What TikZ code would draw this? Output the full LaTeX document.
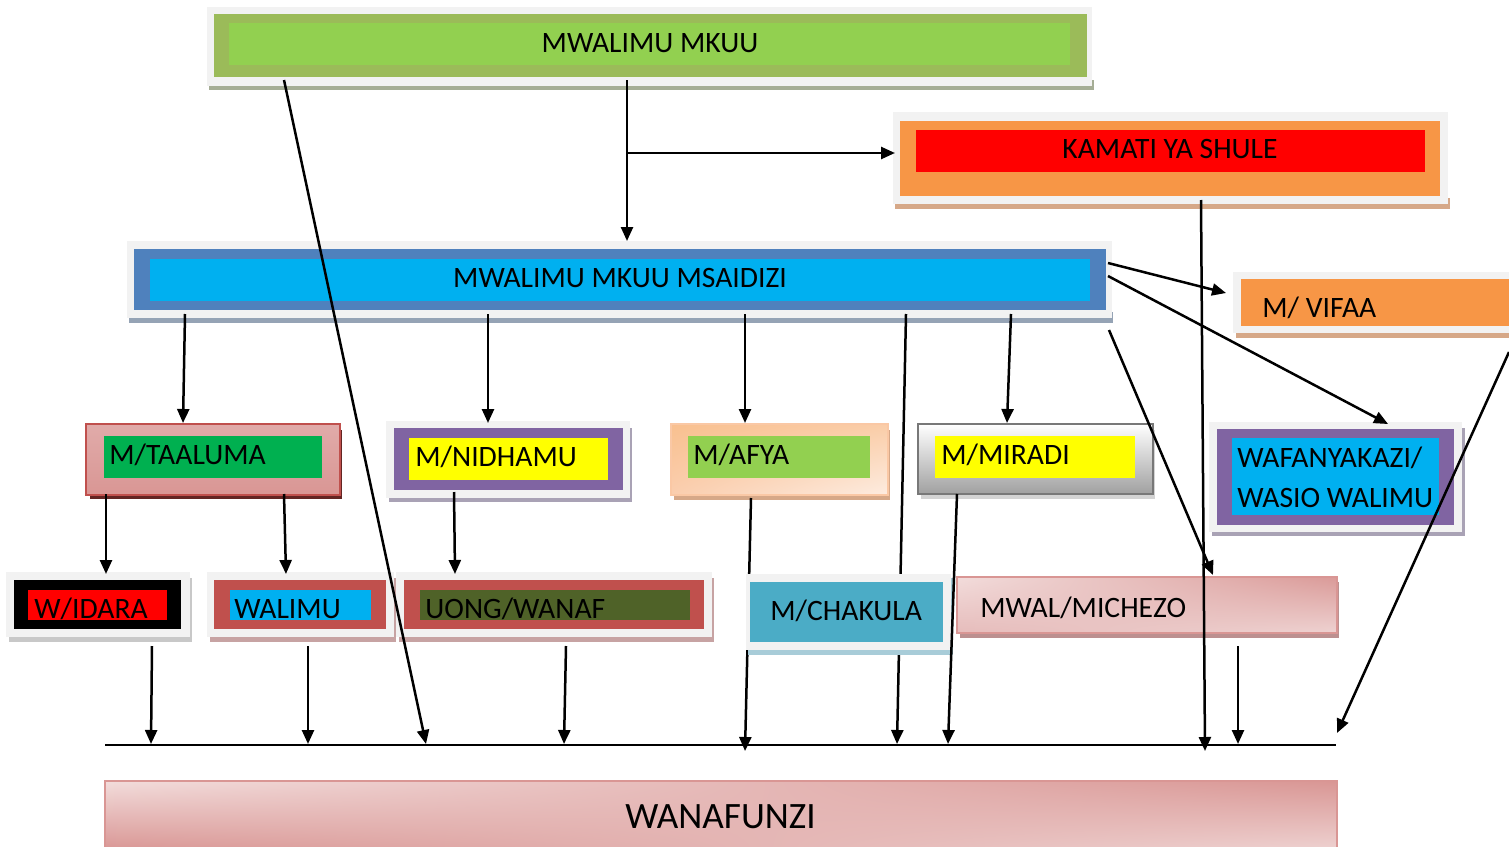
\documentclass[tikz,border=0pt]{standalone}
\usepackage{fontspec}
\setmainfont{Carlito}
\usetikzlibrary{arrows.meta,shadings}

% palette
\definecolor{framegray}{HTML}{F2F2F2}
\definecolor{olive}{HTML}{9BBB59}
\definecolor{lgreen}{HTML}{92D050}
\definecolor{dgreen}{HTML}{00B050}
\definecolor{sorange}{HTML}{F79646}
\definecolor{sred}{HTML}{FF0000}
\definecolor{sblue}{HTML}{4F81BD}
\definecolor{scyan}{HTML}{00B0F0}
\definecolor{spurple}{HTML}{8064A2}
\definecolor{syellow}{HTML}{FFFF00}
\definecolor{brick}{HTML}{C0504D}
\definecolor{darkolive}{HTML}{4F6228}
\definecolor{teal}{HTML}{4BACC6}
\definecolor{rose}{HTML}{D99694}
\definecolor{palerose}{HTML}{F2DCDB}
\definecolor{rosemid}{HTML}{E6BCBB}
\definecolor{rosedark}{HTML}{DA9A98}
\definecolor{roselight}{HTML}{EED2D1}
\definecolor{peachA}{HTML}{F9C08F}
\definecolor{peachB}{HTML}{FACDA8}
\definecolor{peachC}{HTML}{FACEAF}
\definecolor{peachD}{HTML}{FDECE0}
\definecolor{peachedge}{HTML}{FAC8A5}
\definecolor{silver}{HTML}{A0A0A0}
\definecolor{steel}{HTML}{787878}
\definecolor{shgreen}{HTML}{A5AD95}
\definecolor{shtan}{HTML}{D6A888}
\definecolor{shblue}{HTML}{95A3B5}
\definecolor{shmaroon}{HTML}{632523}
\definecolor{shpurple}{HTML}{A9A2B5}
\definecolor{shgray}{HTML}{C8C8C8}
\definecolor{shbrick}{HTML}{C7A3A3}
\definecolor{shteal}{HTML}{A8CCD8}
\definecolor{shrose}{HTML}{BC9090}

\tikzset{
  lbl/.style={font=\fontsize{14.8}{17}\selectfont, inner sep=0pt, anchor=base west, text=black},
  conn/.style={line width=1.25pt, draw=black},
  arr/.style={conn, -{Triangle[length=7pt,width=6pt]}},
}

\begin{document}
\begin{tikzpicture}[x=0.5pt,y=-0.5pt]
\useasboundingbox (0,0) rectangle (1509,846);

% ---------- MWALIMU MKUU ----------
\fill[shgreen] (209,80) rectangle (1094,90);
\fill[framegray] (207,7) rectangle (1092,86);
\fill[olive] (214,14) rectangle (1087,77);
\fill[lgreen] (229,23) rectangle (1070,65);
\node[lbl,anchor=base] (mkuu) at (650,52) {MWALIMU MKUU};

% ---------- KAMATI YA SHULE ----------
\fill[shtan] (895,198) rectangle (1450,209);
\fill[framegray] (893,112) rectangle (1448,204);
\fill[sorange] (900,121) rectangle (1440,196);
\fill[sred] (916,130) rectangle (1425,172);
\node[lbl,anchor=base] (kamati) at (1170,158) {KAMATI YA SHULE};

% ---------- MWALIMU MKUU MSAIDIZI ----------
\fill[shblue] (129,312) rectangle (1113,323);
\fill[framegray] (127,241) rectangle (1112,318);
\fill[sblue] (134,249) rectangle (1106,310);
\fill[scyan] (150,259) rectangle (1090,301);
\node[lbl,anchor=base] (msaidizi) at (620,287) {MWALIMU MKUU MSAIDIZI};

% ---------- M/TAALUMA ----------
\fill[shmaroon] (90,430) rectangle (342,499);
\shade[top color=rose!80!white, middle color=brick, bottom color=rose] (86,424) rectangle (340,495);
\draw[brick, line width=0.6pt] (86,424) rectangle (340,495);
\fill[dgreen] (104,436) rectangle (322,478);
\node[lbl] (taaluma) at (109,464) {M/TAALUMA};

% ---------- M/NIDHAMU ----------
\fill[shpurple] (389,428) rectangle (632,502);
\fill[framegray] (386,421) rectangle (630,498);
\fill[spurple] (394,428) rectangle (623,490);
\fill[syellow] (409,438) rectangle (608,480);
\node[lbl] (nidhamu) at (415,466) {M/NIDHAMU};

% ---------- M/AFYA ----------
\fill[shtan] (674,430) rectangle (890,500);
\shade[upper left=peachA, upper right=peachB, lower left=peachC, lower right=peachD]
  (671,424) rectangle (888,495);
\draw[peachedge, line width=0.6pt] (671,424) rectangle (888,495);
\fill[lgreen] (688,436) rectangle (870,478);
\node[lbl] (afya) at (693,464) {M/AFYA};

% ---------- M/MIRADI ----------
\fill[shgray!80] (921,430) rectangle (1155,499);
\shade[top color=white, bottom color=silver] (918,424) rectangle (1153,494);
\draw[steel, line width=1.1pt] (918,424) rectangle (1153,494);
\fill[syellow] (935,436) rectangle (1135,478);
\node[lbl] (miradi) at (941,464) {M/MIRADI};

% ---------- M/ VIFAA ----------
\fill[shtan] (1236,326) rectangle (1509,338);
\fill[framegray] (1233,272) rectangle (1509,333);
\fill[sorange] (1241,279) rectangle (1509,326);
\node[lbl] (vifaa) at (1262,317) {M/ VIFAA};

% ---------- WAFANYAKAZI / WASIO WALIMU ----------
\fill[shpurple] (1212,428) rectangle (1465,536);
\fill[framegray] (1209,422) rectangle (1462,532);
\fill[spurple] (1217,429) rectangle (1454,525);
\fill[scyan] (1232,438) rectangle (1439,515);
\node[lbl] (wafanya) at (1237,467) {WAFANYAKAZI/};
\node[lbl] (wasio) at (1237,507) {WASIO WALIMU};

% ---------- W/IDARA ----------
\fill[shgray] (9,578) rectangle (192,642);
\fill[framegray] (6,572) rectangle (190,637);
\fill[black] (14,580) rectangle (181,629);
\fill[sred] (28,590) rectangle (167,620);
\node[lbl] (idara) at (34,618) {W/IDARA};

% ---------- WALIMU ----------
\fill[shbrick] (210,578) rectangle (396,642);
\fill[framegray] (207,572) rectangle (394,637);
\fill[brick] (214,580) rectangle (386,629);
\fill[scyan] (230,590) rectangle (371,620);
\node[lbl] (walimu) at (234,618) {WALIMU};

% ---------- UONG/WANAF ----------
\fill[shbrick] (399,578) rectangle (714,642);
\fill[framegray] (396,572) rectangle (712,637);
\fill[brick] (404,580) rectangle (704,629);
\fill[darkolive] (420,590) rectangle (690,620);
\node[lbl] (uong) at (425,618) {UONG/WANAF};

% ---------- MWAL/MICHEZO ----------
\fill[shrose] (960,582) rectangle (1339,638);
\shade[upper left=palerose, upper right=rosedark, lower left=rosemid, lower right=roselight]
  (957,577) rectangle (1337,633);
\draw[rose, line width=0.6pt] (957,577) rectangle (1337,633);
\node[lbl] (michezo) at (980,617) {MWAL/MICHEZO};

% ---------- WANAFUNZI ----------
\shade[upper left=palerose, upper right=rose, lower left=rose, lower right=roselight]
  (105,781) rectangle (1337,850);
\draw[rose, line width=0.8pt] (105,781) rectangle (1337,850);
\node[lbl, font=\fontsize{18.6}{21}\selectfont] (wanafunzi) at (625,828) {WANAFUNZI};

% ---------- connector end points ----------
\coordinate (mkuuL) at (284,80);
\coordinate (mkuuC) at (627,80);
\coordinate (fork) at (627,153);
\coordinate (msaTop) at (627,241);
\coordinate (kamIn) at (895,153);
\coordinate (kamOut) at (1201,200);
\coordinate (msaR1) at (1108,263);
\coordinate (msaR2) at (1108,276);
\coordinate (msaR3) at (1109,330);
\coordinate (vifIn) at (1226,293);
\coordinate (wafIn) at (1388,424);
\coordinate (micIn) at (1213,575);
\coordinate (msaB1) at (185,314);
\coordinate (msaB2) at (488,314);
\coordinate (msaB3) at (745,314);
\coordinate (msaB4) at (906,314);
\coordinate (msaB5) at (1011,314);
\coordinate (taaIn) at (183,423);
\coordinate (nidIn) at (488,423);
\coordinate (afyIn) at (745,423);
\coordinate (mirIn) at (1007,423);
\coordinate (taaB1) at (106,494);
\coordinate (taaB2) at (284,494);
\coordinate (idaIn) at (106,574);
\coordinate (walIn) at (286,574);
\coordinate (nidB) at (454,492);
\coordinate (uonIn) at (455,574);
\coordinate (afyB) at (751,498);
\coordinate (mirB) at (957,494);
\coordinate (idaB) at (152,646);
\coordinate (walB) at (308,646);
\coordinate (uonB) at (566,646);
\coordinate (micB) at (1238,646);
\coordinate (vifR) at (1509,352);
% points on the collecting line
\coordinate (busW) at (105,745);
\coordinate (busE) at (1336,745);
\coordinate (bus1) at (151,744);
\coordinate (bus2) at (308,744);
\coordinate (bus3) at (426,744);
\coordinate (bus4) at (564,744);
\coordinate (bus5) at (745,751);
\coordinate (bus6) at (897,744);
\coordinate (bus7) at (948,744);
\coordinate (bus8) at (1205,751);
\coordinate (bus9) at (1238,744);
\coordinate (bus10) at (1337,733);

% ---------- lines that pass behind M/CHAKULA ----------
\draw[arr] (afyB) -- (bus5);
\draw[arr] (msaB4) -- (bus6);

% ---------- M/CHAKULA ----------
\fill[shteal] (748,578) rectangle (953,655);
\fill[framegray] (746,574) rectangle (951,650);
\fill[teal] (750,582) rectangle (943,642);
\node[lbl] (chakula) at (770,620) {M/CHAKULA};

% ---------- remaining connectors ----------
\draw[conn] (busW) -- (busE);
\draw[arr] (mkuuL) -- (bus3);
\draw[arr] (mkuuC) -- (msaTop);
\draw[arr] (fork) -- (kamIn);
\draw[arr] (kamOut) -- (bus8);
\draw[arr] (msaR1) -- (vifIn);
\draw[arr] (msaR2) -- (wafIn);
\draw[arr] (msaR3) -- (micIn);
\draw[arr] (msaB1) -- (taaIn);
\draw[arr] (msaB2) -- (nidIn);
\draw[arr] (msaB3) -- (afyIn);
\draw[arr] (msaB5) -- (mirIn);
\draw[arr] (taaB1) -- (idaIn);
\draw[arr] (taaB2) -- (walIn);
\draw[arr] (nidB) -- (uonIn);
\draw[arr] (mirB) -- (bus7);
\draw[arr] (idaB) -- (bus1);
\draw[arr] (walB) -- (bus2);
\draw[arr] (uonB) -- (bus4);
\draw[arr] (micB) -- (bus9);
\draw[arr] (vifR) -- (bus10);
\end{tikzpicture}
\end{document}
